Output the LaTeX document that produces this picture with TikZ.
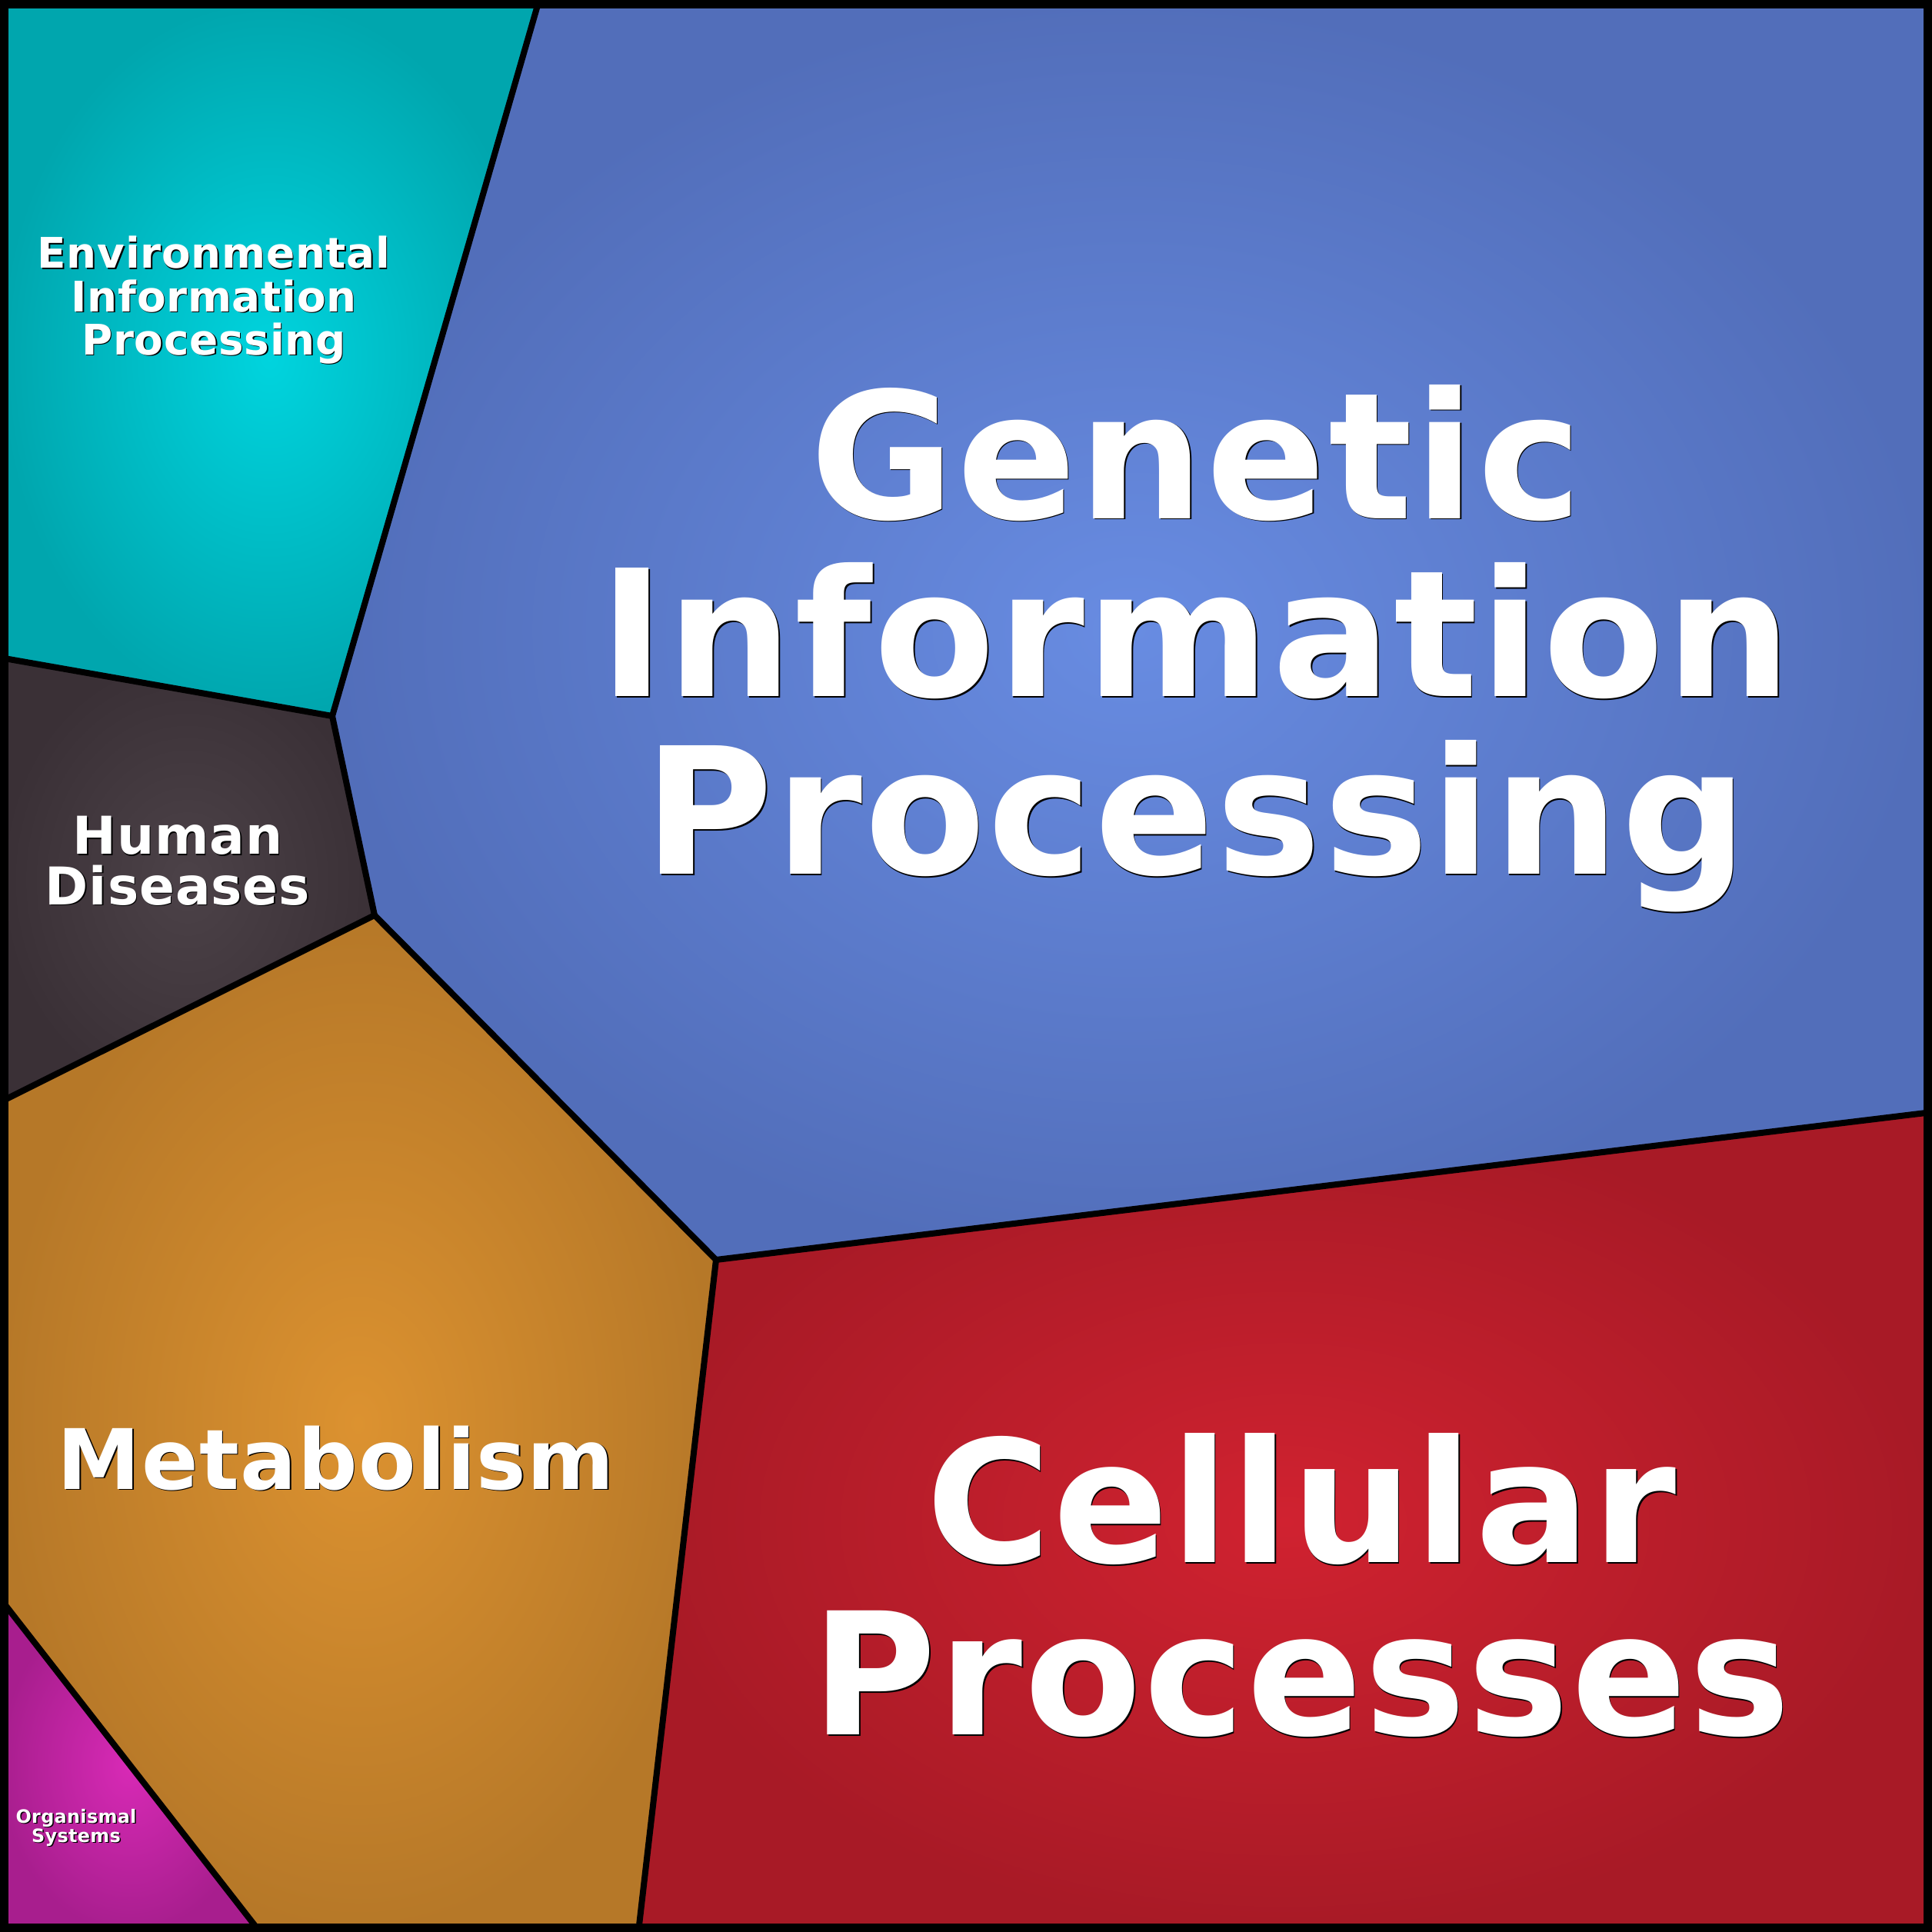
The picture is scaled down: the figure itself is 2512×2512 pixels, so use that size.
\documentclass[tikz,border=0pt]{standalone}
\usepackage{fontspec}
\setmainfont{DejaVu Sans}[LetterSpace=1.3]
\definecolor{envin}{RGB}{0,212,222}
\definecolor{envout}{RGB}{0,166,174}
\definecolor{genin}{RGB}{104,140,226}
\definecolor{genout}{RGB}{82,110,186}
\definecolor{humin}{RGB}{76,66,72}
\definecolor{humout}{RGB}{58,48,54}
\definecolor{metin}{RGB}{220,146,48}
\definecolor{metout}{RGB}{182,120,40}
\definecolor{celin}{RGB}{208,34,48}
\definecolor{celout}{RGB}{168,26,38}
\definecolor{orgin}{RGB}{216,42,182}
\definecolor{orgout}{RGB}{168,30,142}
\newcommand{\dropshade}[1]{\leavevmode\rlap{\kern1.5bp\raisebox{-1.5bp}{\color{black}#1}}#1}
\tikzset{
	wall/.style={line width=8bp, line cap=round, line join=round},
	celltext/.style={text=white, align=center, inner sep=0pt},
}
\begin{document}
\begin{tikzpicture}[x=1bp,y=-1bp]
	\useasboundingbox (0,0) rectangle (2512,2512);
	\coordinate (T)  at (701,0);
	\coordinate (V1) at (432,931);
	\coordinate (V2) at (487,1190);
	\coordinate (V3) at (931,1638);
	\coordinate (L1) at (0,855);
	\coordinate (L2) at (0,1433);
	\coordinate (L3) at (0,2078);
	\coordinate (R)  at (2512,1446);
	\coordinate (B1) at (338,2512);
	\coordinate (B2) at (830,2512);
	\shade[inner color=envin, outer color=envout] (0,0) -- (T) -- (V1) -- (L1) -- cycle;
	\shade[inner color=genin, outer color=genout] (T) -- (2512,0) -- (R) -- (V3) -- (V2) -- (V1) -- cycle;
	\shade[inner color=humin, outer color=humout] (L1) -- (V1) -- (V2) -- (L2) -- cycle;
	\shade[inner color=metin, outer color=metout] (L2) -- (V2) -- (V3) -- (B2) -- (B1) -- (L3) -- cycle;
	\shade[inner color=celin, outer color=celout] (V3) -- (R) -- (2512,2512) -- (B2) -- cycle;
	\shade[inner color=orgin, outer color=orgout] (L3) -- (B1) -- (0,2512) -- cycle;
	\draw[wall] (T) -- (V1) -- (L1);
	\draw[wall] (V1) -- (V2) -- (L2);
	\draw[wall] (V2) -- (V3) -- (R);
	\draw[wall] (V3) -- (B2);
	\draw[wall] (L3) -- (B1);
	\draw[line width=22bp] (0,0) rectangle (2512,2512);
	\node (env) at (278,391) [celltext, font=\bfseries\fontsize{55}{56.5}\selectfont]
		{\dropshade{Environmental}\\\dropshade{Information}\\\dropshade{Processing}};
	\node (gen) at (1555,844) [celltext, font=\bfseries\fontsize{230}{232}\selectfont]
		{\dropshade{Genetic}\\\dropshade{Information}\\\dropshade{Processing}};
	\node (hum) at (231,1120) [celltext, font=\bfseries\fontsize{68}{66}\selectfont]
		{\dropshade{Human}\\\dropshade{Diseases}};
	\node (met) at (437,1936) [celltext, anchor=base, font=\bfseries\fontsize{109}{110}\selectfont]
		{\dropshade{Metabolism}};
	\node (cel) at (1692,2062) [celltext, font=\bfseries\fontsize{222}{225}\selectfont]
		{\dropshade{Cellular}\\\dropshade{Processes}};
	\node (org) at (99,2377) [celltext, font=\bfseries\fontsize{24}{23}\selectfont]
		{\dropshade{Organismal}\\\dropshade{Systems}};
\end{tikzpicture}
\end{document}
